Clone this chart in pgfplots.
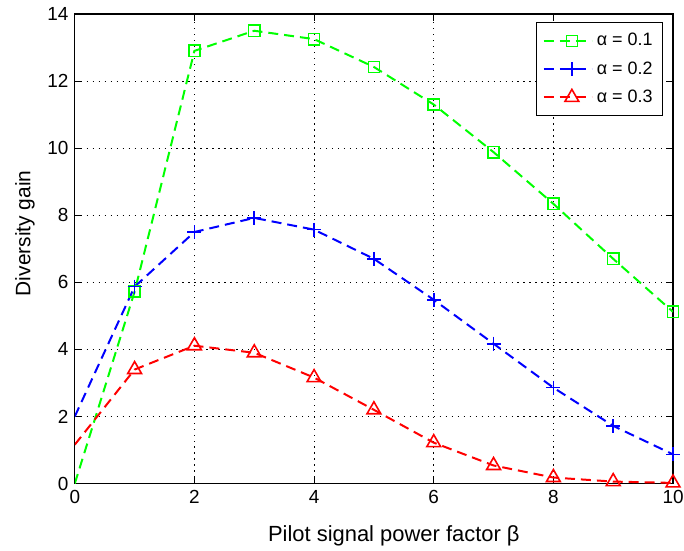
\documentclass[border=0pt]{standalone}
\usepackage{fontspec}
\setmainfont{Liberation Sans}
\usepackage{pgfplots}
\pgfplotsset{compat=1.18}
\begin{document}
\fontsize{9}{11}\selectfont
\begin{tikzpicture}
\begin{axis}[
    name=ax,
    scale only axis,
    width=300pt, height=235.5pt,
    xmin=0, xmax=10, ymin=0, ymax=14,
    xtick={0,2,...,10}, ytick={0,2,...,14},
    grid=major,
    major grid style={black, line width=0.4pt, dash pattern=on 0.6pt off 2.4pt},
    tick align=inside, major tick length=3.5pt,
    tick style={black, line width=0.4pt},
    axis line style={line width=0.6pt},
    /pgf/number format/assume math mode=true,
    tick label style={font=\fontsize{9.5}{11}\selectfont},
    xticklabel style={inner xsep=0pt},
    yticklabel style={inner ysep=0pt},
    every axis x label/.style={at={(axis description cs:0.5,0)}, anchor=center, inner sep=0pt,
        yshift=-26pt, xshift=10pt, font=\fontsize{11}{13}\selectfont},
    every axis y label/.style={at={(axis description cs:0,0.5)}, anchor=center, rotate=90, inner sep=0pt,
        yshift=25pt, xshift=7.75pt, font=\fontsize{10.5}{13}\selectfont},
    xlabel={Pilot signal power factor β},
    ylabel={Diversity gain},
    legend style={at={(axis cs:10,14)}, anchor=north east, xshift=-5pt, yshift=-4pt,
        draw=black, line width=0.5pt, font=\fontsize{9}{10}\selectfont,
        cells={anchor=west}, inner xsep=3pt, inner ysep=3.5pt, row sep=2.5pt},
    legend image code/.code={
        \draw[#1, mark indices={2}] plot coordinates {(0pt,0pt) (14pt,0pt) (19pt,0pt)};
        \path (0pt,0pt) -- (24pt,0pt);
    },
    every axis plot/.append style={line width=1pt, dash pattern=on 5pt off 3pt,
        mark indices={2,3,...,11}, mark options={solid, line width=0.8pt}},
]
\addplot[color={rgb,1:red,0;green,1;blue,0}, mark=square, mark size=2.8pt] coordinates {
    (0,0) (1,5.72) (2,12.9) (3,13.5) (4,13.25) (5,12.42) (6,11.3) (7,9.88) (8,8.34) (9,6.7) (10,5.12)
};
\addlegendentry{α = 0.1}
\addplot[color={rgb,1:red,0;green,0;blue,1}, mark=+, mark size=3.5pt] coordinates {
    (0,2.0) (1,5.87) (2,7.5) (3,7.92) (4,7.57) (5,6.7) (6,5.48) (7,4.17) (8,2.86) (9,1.72) (10,0.87)
};
\addlegendentry{α = 0.2}
\addplot[color={rgb,1:red,1;green,0;blue,0}, mark=triangle, mark size=4pt] coordinates {
    (0,1.16) (1,3.4) (2,4.11) (3,3.9) (4,3.16) (5,2.2) (6,1.22) (7,0.54) (8,0.18) (9,0.06) (10,0.02)
};
\addlegendentry{α = 0.3}
\end{axis}
\path ([xshift=-37.5pt,yshift=-33.5pt]ax.south west) rectangle ([xshift=5.5pt,yshift=7pt]ax.north east);
\end{tikzpicture}
\end{document}
